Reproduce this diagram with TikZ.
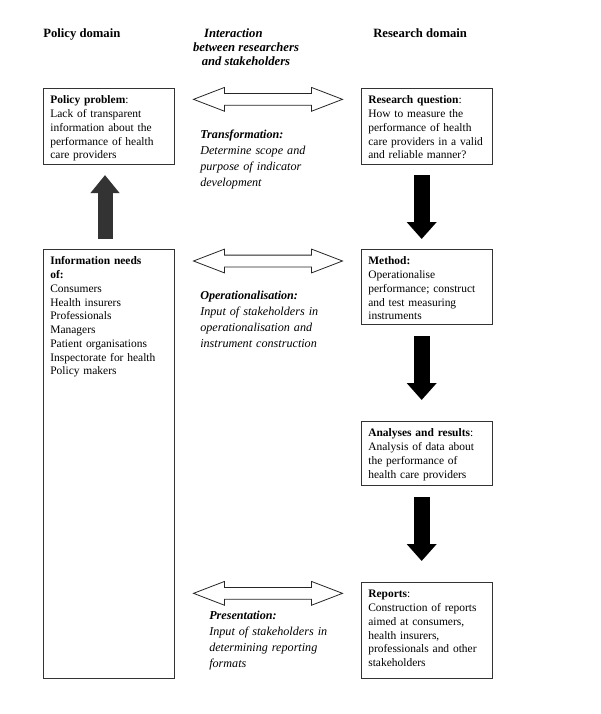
\documentclass[tikz,border=0pt]{standalone}
\usepackage{fontspec}
\setmainfont{Liberation Serif}
\usetikzlibrary{arrows.meta,shapes.arrows,calc}

\newcommand{\bodyfont}{\fontsize{8.6}{10.3}\selectfont}
\newcommand{\midfont}{\fontsize{9.1}{12}\selectfont\itshape}
\newcommand{\headfont}{\fontsize{9.5}{10.5}\selectfont\bfseries}

\tikzset{
	domainbox/.style={draw=black!80, line width=0.8pt, anchor=north west, align=left, text width=88pt, inner xsep=5.1pt, inner ysep=5.5pt, text height=6pt, font=\bodyfont},
	midtext/.style={anchor=north west, align=left, text width=94pt, inner sep=0pt, text height=6.2pt, font=\midfont},
	headtext/.style={inner sep=0pt, font=\headfont},
	dblarrow/.style={double arrow, draw=black!85, line width=0.6pt, fill=white, double arrow tip angle=42, double arrow head extend=4.5pt, inner xsep=0pt, inner ysep=4.125pt, minimum height=111.75pt},
	downarrow/.style={draw=black, line width=12pt, -{Triangle[width=21.75pt,length=12.75pt]}},
	uparrow/.style={draw=black!80, line width=11.25pt, -{Triangle[width=21pt,length=13.5pt]}}
}

\begin{document}
\begin{tikzpicture}[x=0.75pt,y=0.75pt,yscale=-1,xscale=1]
		%set diagram size
		\useasboundingbox (0,0) rectangle (600,714);

		% Text Node
		\node (poldom) [headtext, anchor=base west] at (43,37) {Policy domain};
		% Text Node
		\node (resdom) [headtext, anchor=base west] at (373,37) {Research domain};
		% Text Node
		\node (inter) [headtext, anchor=north, align=center, font=\headfont\itshape] at (246,28) {Interaction\hspace*{19pt}\\between researchers\\and stakeholders};

		%Shape: Rectangle [id:pp]
		\node (pp) [domainbox, text depth=40pt] at (43,88) {\textbf{Policy problem}:\\Lack of transparent\\information about the\\performance of health\\care providers};
		%Shape: Rectangle [id:rq]
		\node (rq) [domainbox, text depth=40pt] at (361,88) {\textbf{Research question}:\\How to measure the\\performance of health\\care providers in a valid\\and reliable manner?};
		%Shape: Rectangle [id:info]
		\node (info) [domainbox, text depth=304.75pt] at (43,249) {\textbf{Information needs}\\\textbf{of:}\\Consumers\\Health insurers\\Professionals\\Managers\\Patient organisations\\Inspectorate for health\\Policy makers};
		%Shape: Rectangle [id:meth]
		\node (meth) [domainbox, text depth=39.25pt] at (361,249) {\textbf{Method:}\\Operationalise\\performance; construct\\and test measuring\\instruments};
		%Shape: Rectangle [id:ana]
		\node (ana) [domainbox, text depth=31pt] at (361,421) {\textbf{Analyses and results}:\\Analysis of data about\\the performance of\\health care providers};
		%Shape: Rectangle [id:rep]
		\node (rep) [domainbox, text depth=55pt] at (361,582) {\textbf{Reports}:\\Construction of reports\\aimed at consumers,\\health insurers,\\professionals and other\\stakeholders};

		%Block Arrows [id:up]
		\draw [uparrow, shorten <=7.5pt, shorten >=7.5pt] ([xshift=-3pt]info.north) -- ([xshift=-3pt]pp.south);
		%Block Arrows [id:down]
		\draw [downarrow, shorten <=7.5pt, shorten >=7.5pt] ([xshift=-4pt]rq.south) -- ([xshift=-4pt]meth.north);
		\draw [downarrow, shorten <=8.25pt, shorten >=15.75pt] ([xshift=-4pt]meth.south) -- ([xshift=-4pt]ana.north);
		\draw [downarrow, shorten <=8.25pt, shorten >=15.75pt] ([xshift=-4pt]ana.south) -- ([xshift=-4pt]rep.north);

		%Double Arrows [id:interaction]
		\node (tr) [dblarrow, yshift=-8.5pt] at ($(pp.north east)!0.5!(rq.north west)$) {};
		\node (op) [dblarrow, yshift=-9pt] at ($(info.north east)!0.5!(meth.north west)$) {};
		\node (pr) [dblarrow, yshift=-8.5pt] at ($(info.south east|-rep.north)!0.5!(rep.north west)$) {};

		% Text Node
		\node (trans) [midtext] at (200,130) {\textbf{Transformation:}\\Determine scope and\\purpose of indicator\\development};
		% Text Node
		\node (oper) [midtext] at (200,291) {\textbf{Operationalisation:}\\Input of stakeholders in\\operationalisation and\\instrument construction};
		% Text Node
		\node (pres) [midtext] at (209,611) {\textbf{Presentation:}\\Input of stakeholders in\\determining reporting\\formats};
	\end{tikzpicture}
\end{document}
